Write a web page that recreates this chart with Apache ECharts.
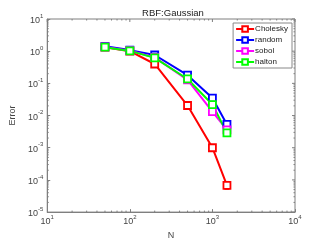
<!DOCTYPE html>
<html><head><meta charset="utf-8">
<script src="https://cdn.jsdelivr.net/npm/echarts@6/dist/echarts.min.js"></script>
<style>html,body{margin:0;padding:0;background:#fff}#c{width:327px;height:245px}</style>
</head><body><div id="c"></div>
<script>
const N = [50, 100, 200, 500, 1000, 1500];
const cholesky = [1.33, 1.0, 0.40, 0.0205, 0.00100, 0.000068];
const cholErrLo = [1.28, 0.96, 0.36, 0.0185, 0.00085, 0.000052];
const cholErrHi = [1.38, 1.04, 0.44, 0.0225, 0.00120, 0.000088];
const random = [1.42, 1.08, 0.76, 0.18, 0.035, 0.0053];
const randErrLo = [1.36, 1.04, 0.72, 0.165, 0.031, 0.0044];
const randErrHi = [1.48, 1.12, 0.80, 0.195, 0.039, 0.0064];
const sobol = [1.35, 1.03, 0.64, 0.128, 0.0133, 0.0036];
const halton = [1.33, 1.02, 0.62, 0.137, 0.022, 0.0029];
const xMin = 10, xMax = 10000, yMin = 1e-5, yMax = 10;

const chart = echarts.init(document.getElementById('c'));
const font = 'Liberation Sans, Arial, sans-serif';
const axisGray = '#7f7f7f';
function pow10(v){ const e = Math.round(Math.log10(v)); return '{b|10}{s|' + e + '}'; }
const rich = {b:{fontSize:9,color:'#444',fontFamily:font,lineHeight:12,verticalAlign:'bottom'},
              s:{fontSize:6,color:'#444',fontFamily:font,lineHeight:12,verticalAlign:'top'}};

const xMinor=[], yMinor=[];
for(let e=1;e<4;e++) for(let m=2;m<10;m++) xMinor.push(m*Math.pow(10,e));
for(let e=-5;e<1;e++) for(let m=2;m<10;m++) yMinor.push(m*Math.pow(10,e));

function errSeries(name, color, lo, hi){
  return {type:'custom', name:name, silent:true, z:3,
    data: N.map((x,i)=>[x, lo[i], hi[i]]),
    renderItem:(p,api)=>{
      const a=api.coord([api.value(0),api.value(1)]), b=api.coord([api.value(0),api.value(2)]);
      const w=2.5;
      return {type:'group',children:[
        {type:'line',shape:{x1:a[0],y1:a[1],x2:b[0],y2:b[1]},style:{stroke:color,lineWidth:1.5}},
        {type:'line',shape:{x1:a[0]-w,y1:a[1],x2:a[0]+w,y2:a[1]},style:{stroke:color,lineWidth:1.5}},
        {type:'line',shape:{x1:b[0]-w,y1:b[1],x2:b[0]+w,y2:b[1]},style:{stroke:color,lineWidth:1.5}}]};
    }};
}
function lineSeries(name,color,vals){
  return {type:'line', name:name, data:N.map((x,i)=>[x,vals[i]]), z:4,
    symbol:'rect', symbolSize:7, showSymbol:true,
    lineStyle:{color:color,width:2}, itemStyle:{color:'#fff',borderColor:color,borderWidth:1.8},
    emphasis:{disabled:true}};
}
const minorTicks = {type:'custom', silent:true, z:1, data:[0],
  renderItem:(p,api)=>{
    const ch=[];
    const tl=api.coord([xMin,yMax]), br=api.coord([xMax,yMin]);
    const st={stroke:axisGray,lineWidth:1};
    xMinor.forEach(v=>{const x=api.coord([v,yMin])[0];
      ch.push({type:'line',shape:{x1:x,y1:br[1],x2:x,y2:br[1]-1.5},style:st});
      ch.push({type:'line',shape:{x1:x,y1:tl[1],x2:x,y2:tl[1]+1.5},style:st});});
    yMinor.forEach(v=>{const y=api.coord([xMin,v])[1];
      ch.push({type:'line',shape:{x1:tl[0],y1:y,x2:tl[0]+1.5,y2:y},style:st});
      ch.push({type:'line',shape:{x1:br[0],y1:y,x2:br[0]-1.5,y2:y},style:st});});
    [10,100,1000,10000].forEach(v=>{const x=api.coord([v,yMin])[0];
      ch.push({type:'line',shape:{x1:x,y1:tl[1],x2:x,y2:tl[1]+3},style:st});});
    [1e-5,1e-4,1e-3,1e-2,1e-1,1,10].forEach(v=>{const y=api.coord([xMin,v])[1];
      ch.push({type:'line',shape:{x1:br[0],y1:y,x2:br[0]-3,y2:y},style:st});});
    return {type:'group',children:ch};
  }};

chart.setOption({
  animation:false,
  backgroundColor:'#fff',
  title:{text:'RBF:Gaussian', left:168, top:3, textAlign:'center',
    textStyle:{fontSize:9.5,fontWeight:'normal',color:'#222',fontFamily:font}},
  grid:{left:43, right:32, top:19, bottom:29, show:true, borderColor:axisGray, borderWidth:1},
  legend:{orient:'vertical', right:35, top:23, itemWidth:18, itemHeight:7, itemGap:3,
    data:['Cholesky','random','sobol','halton'],
    backgroundColor:'#fff', borderColor:'#888', borderWidth:1, padding:[2,4,2,2],
    textStyle:{fontSize:8,color:'#222',fontFamily:font,padding:[0,0,0,-4]}},
  xAxis:{type:'log', min:xMin, max:xMax, logBase:10,
    name:'N', nameLocation:'middle', nameGap:17, nameTextStyle:{fontSize:9,color:'#444',fontFamily:font},
    axisLine:{lineStyle:{color:axisGray}}, axisTick:{inside:true,length:3,lineStyle:{color:axisGray}},
    splitLine:{show:false}, axisLabel:{formatter:pow10, rich:rich, margin:2}},
  yAxis:{type:'log', min:yMin, max:yMax, logBase:10,
    name:'Error', nameLocation:'middle', nameGap:25, nameTextStyle:{fontSize:9,color:'#444',fontFamily:font},
    axisLine:{lineStyle:{color:axisGray}}, axisTick:{inside:true,length:3,lineStyle:{color:axisGray}},
    splitLine:{show:false}, axisLabel:{formatter:pow10, rich:rich, margin:4}},
  series:[
    minorTicks,
    lineSeries('Cholesky','#ff0000',cholesky),
    lineSeries('random','#0000ff',random),
    lineSeries('sobol','#ff00ff',sobol),
    lineSeries('halton','#00ff00',halton),
    errSeries('Cholesky','#ff0000',cholErrLo,cholErrHi),
    errSeries('random','#0000ff',randErrLo,randErrHi)
  ]
});
</script></body></html>
